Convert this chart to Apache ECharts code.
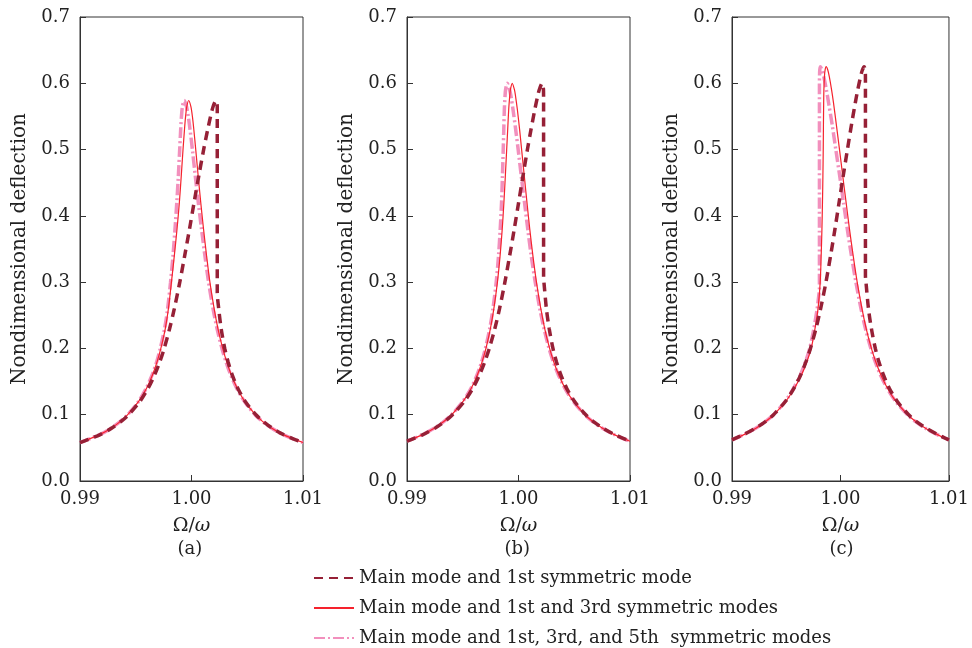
<!DOCTYPE html>
<html>
<head>
<meta charset="utf-8">
<script src="https://cdn.jsdelivr.net/npm/echarts@6/dist/echarts.min.js"></script>
<style>html,body{margin:0;padding:0;background:#fff;}#c{width:972px;height:648px;}</style>
</head>
<body>
<div id="c"></div>
<script>
// Series names
const seriesNames = [
  'Main mode and 1st symmetric mode',
  'Main mode and 1st and 3rd symmetric modes',
  'Main mode and 1st, 3rd, and 5th  symmetric modes'
];
const panelLabels = ['(a)', '(b)', '(c)'];
const xTicks = [0.99, 1.00, 1.01];
const yTicks = [0.0, 0.1, 0.2, 0.3, 0.4, 0.5, 0.6, 0.7];

// Panel (a) — [Ω/ω, deflection]
const a_dashed = [[0.99,0.058],[0.99181,0.07],[0.99286,0.08],[0.99369,0.09],[0.99436,0.10],[0.99537,0.12],[0.99611,0.14],[0.99669,0.16],[0.99716,0.18],[0.99755,0.20],[0.99804,0.23],[0.99846,0.26],[0.99895,0.30],[0.99939,0.34],[0.99982,0.38],[1.00023,0.42],[1.00065,0.46],[1.00109,0.50],[1.00145,0.53],[1.00171,0.55],[1.00194,0.565],[1.00219,0.574],[1.00231,0.565],[1.00231,0.55],[1.00231,0.285],[1.00244,0.26],[1.00266,0.23],[1.00298,0.20],[1.00328,0.18],[1.00365,0.16],[1.00415,0.14],[1.00482,0.12],[1.00578,0.10],[1.00642,0.09],[1.00722,0.08],[1.00826,0.07],[1.01,0.058]];
const a_red = [[0.99,0.058],[0.99177,0.07],[0.99282,0.08],[0.99363,0.09],[0.99428,0.10],[0.99526,0.12],[0.99597,0.14],[0.99650,0.16],[0.99692,0.18],[0.99725,0.20],[0.99765,0.23],[0.99793,0.26],[0.99820,0.30],[0.99846,0.34],[0.99870,0.38],[0.99891,0.42],[0.99908,0.46],[0.99924,0.50],[0.99937,0.53],[0.99947,0.55],[0.99958,0.565],[0.99975,0.574],[0.99994,0.565],[1.00008,0.55],[1.00021,0.53],[1.00038,0.50],[1.00060,0.46],[1.00083,0.42],[1.00108,0.38],[1.00135,0.34],[1.00165,0.30],[1.00203,0.26],[1.00237,0.23],[1.00280,0.20],[1.00315,0.18],[1.00357,0.16],[1.00410,0.14],[1.00478,0.12],[1.00573,0.10],[1.00637,0.09],[1.00717,0.08],[1.00822,0.07],[1.01,0.058]];
const a_pink = [[0.99,0.058],[0.99177,0.07],[0.99281,0.08],[0.99362,0.09],[0.99427,0.10],[0.99525,0.12],[0.99594,0.14],[0.99647,0.16],[0.99688,0.18],[0.99720,0.20],[0.99759,0.23],[0.99786,0.26],[0.99812,0.30],[0.99834,0.34],[0.99852,0.38],[0.99868,0.42],[0.99882,0.46],[0.99894,0.50],[0.99903,0.53],[0.99910,0.55],[0.99919,0.565],[0.99935,0.574],[0.99955,0.565],[0.99971,0.55],[0.99987,0.53],[1.00008,0.50],[1.00034,0.46],[1.00061,0.42],[1.00090,0.38],[1.00120,0.34],[1.00153,0.30],[1.00193,0.26],[1.00229,0.23],[1.00273,0.20],[1.00309,0.18],[1.00352,0.16],[1.00405,0.14],[1.00475,0.12],[1.00570,0.10],[1.00635,0.09],[1.00717,0.08],[1.00821,0.07],[1.01,0.058]];

// Panel (b)
const b_dashed = [[0.99,0.060],[0.99143,0.07],[0.99253,0.08],[0.99339,0.09],[0.99408,0.10],[0.99514,0.12],[0.99591,0.14],[0.99650,0.16],[0.99698,0.18],[0.99738,0.20],[0.99788,0.23],[0.99830,0.26],[0.99878,0.30],[0.99921,0.34],[0.99962,0.38],[1.00001,0.42],[1.00040,0.46],[1.00080,0.50],[1.00112,0.53],[1.00146,0.56],[1.00171,0.58],[1.00186,0.59],[1.00212,0.60],[1.00224,0.59],[1.00225,0.575],[1.00225,0.305],[1.00228,0.30],[1.00250,0.26],[1.00275,0.23],[1.00309,0.20],[1.00340,0.18],[1.00380,0.16],[1.00432,0.14],[1.00503,0.12],[1.00603,0.10],[1.00670,0.09],[1.00755,0.08],[1.00863,0.07],[1.01,0.060]];
const b_red = [[0.99,0.060],[0.99139,0.07],[0.99248,0.08],[0.99333,0.09],[0.99401,0.10],[0.99503,0.12],[0.99576,0.14],[0.99631,0.16],[0.99674,0.18],[0.99708,0.20],[0.99748,0.23],[0.99779,0.26],[0.99811,0.30],[0.99835,0.34],[0.99854,0.38],[0.99869,0.42],[0.99882,0.46],[0.99894,0.50],[0.99903,0.53],[0.99912,0.56],[0.99921,0.58],[0.99927,0.59],[0.99944,0.60],[0.99964,0.59],[0.99974,0.58],[0.99990,0.56],[1.00010,0.53],[1.00028,0.50],[1.00052,0.46],[1.00076,0.42],[1.00101,0.38],[1.00129,0.34],[1.00161,0.30],[1.00200,0.26],[1.00235,0.23],[1.00279,0.20],[1.00316,0.18],[1.00361,0.16],[1.00418,0.14],[1.00493,0.12],[1.00596,0.10],[1.00664,0.09],[1.00750,0.08],[1.00859,0.07],[1.01,0.060]];
const b_pink = [[0.99,0.060],[0.99139,0.07],[0.99247,0.08],[0.99332,0.09],[0.99400,0.10],[0.99501,0.12],[0.99574,0.14],[0.99628,0.16],[0.99670,0.18],[0.99703,0.20],[0.99742,0.23],[0.99771,0.26],[0.99800,0.30],[0.99821,0.34],[0.99836,0.38],[0.99848,0.42],[0.99856,0.46],[0.99863,0.50],[0.99868,0.53],[0.99873,0.56],[0.99879,0.58],[0.99884,0.59],[0.99899,0.60],[0.99921,0.59],[0.99933,0.58],[0.99951,0.56],[0.99975,0.53],[0.99997,0.50],[1.00025,0.46],[1.00054,0.42],[1.00083,0.38],[1.00114,0.34],[1.00150,0.30],[1.00191,0.26],[1.00229,0.23],[1.00274,0.20],[1.00312,0.18],[1.00358,0.16],[1.00415,0.14],[1.00491,0.12],[1.00595,0.10],[1.00663,0.09],[1.00749,0.08],[1.00858,0.07],[1.01,0.060]];

// Panel (c)
const c_dashed = [[0.99,0.062],[0.99107,0.07],[0.99221,0.08],[0.99311,0.09],[0.99383,0.10],[0.99492,0.12],[0.99572,0.14],[0.99633,0.16],[0.99682,0.18],[0.99723,0.20],[0.99774,0.23],[0.99817,0.26],[0.99866,0.30],[0.99909,0.34],[0.99949,0.38],[0.99987,0.42],[1.00025,0.46],[1.00064,0.50],[1.00104,0.54],[1.00136,0.57],[1.00159,0.59],[1.00185,0.61],[1.00202,0.62],[1.00218,0.625],[1.00227,0.62],[1.00230,0.61],[1.00230,0.60],[1.00230,0.31],[1.00235,0.30],[1.00258,0.26],[1.00285,0.23],[1.00321,0.20],[1.00354,0.18],[1.00396,0.16],[1.00450,0.14],[1.00524,0.12],[1.00628,0.10],[1.00698,0.09],[1.00786,0.08],[1.00898,0.07],[1.01,0.062]];
const c_red = [[0.99,0.062],[0.99110,0.07],[0.99225,0.08],[0.99313,0.09],[0.99385,0.10],[0.99495,0.12],[0.99575,0.14],[0.99640,0.16],[0.99690,0.18],[0.99730,0.20],[0.99765,0.23],[0.99793,0.26],[0.99813,0.30],[0.99822,0.34],[0.99829,0.38],[0.99834,0.42],[0.99838,0.46],[0.99841,0.50],[0.99843,0.54],[0.99845,0.57],[0.99847,0.59],[0.99852,0.61],[0.99858,0.62],[0.99868,0.625],[0.99883,0.62],[0.99897,0.61],[0.99918,0.59],[0.99936,0.57],[0.99960,0.54],[0.99991,0.50],[1.00021,0.46],[1.00052,0.42],[1.00083,0.38],[1.00117,0.34],[1.00154,0.30],[1.00198,0.26],[1.00237,0.23],[1.00285,0.20],[1.00325,0.18],[1.00373,0.16],[1.00433,0.14],[1.00511,0.12],[1.00619,0.10],[1.00691,0.09],[1.00780,0.08],[1.00894,0.07],[1.01,0.062]];
const c_pink = [[0.99,0.062],[0.99108,0.07],[0.99222,0.08],[0.99310,0.09],[0.99382,0.10],[0.99490,0.12],[0.99568,0.14],[0.99630,0.16],[0.99678,0.18],[0.99716,0.20],[0.99755,0.23],[0.99785,0.26],[0.99800,0.28],[0.99806,0.29],[0.99806,0.60],[0.99807,0.61],[0.99809,0.62],[0.99815,0.625],[0.99830,0.62],[0.99846,0.61],[0.99870,0.59],[0.99891,0.57],[0.99921,0.54],[0.99957,0.50],[0.99993,0.46],[1.00028,0.42],[1.00063,0.38],[1.00101,0.34],[1.00142,0.30],[1.00189,0.26],[1.00230,0.23],[1.00280,0.20],[1.00320,0.18],[1.00369,0.16],[1.00430,0.14],[1.00509,0.12],[1.00618,0.10],[1.00690,0.09],[1.00779,0.08],[1.00893,0.07],[1.01,0.062]];

const panels = [
  {dashed: a_dashed, red: a_red, pink: a_pink},
  {dashed: b_dashed, red: b_red, pink: b_pink},
  {dashed: c_dashed, red: c_red, pink: c_pink}
];

const FONT = 'DejaVu Serif';
const TXT = '#222';
const gridLefts = [80, 407, 732];
const gridW = 223;
const grids = gridLefts.map(l => ({left: l, top: 17, width: gridW, height: 464, show: true, borderColor: '#333', borderWidth: 1, backgroundColor: 'transparent'}));

const xAxes = grids.map((g, i) => ({
  type: 'value', gridIndex: i, min: xTicks[0], max: xTicks[2], interval: 0.01,
  axisLine: {show: true, lineStyle: {color: '#333', width: 1}},
  axisTick: {show: true, inside: true, length: 6, lineStyle: {color: '#333'}},
  axisLabel: {fontFamily: FONT, fontSize: 18, color: TXT, margin: 9, formatter: v => v.toFixed(2)},
  splitLine: {show: false},
  name: '{n|Ω/}{i|ω}', nameLocation: 'middle', nameGap: 36,
  nameTextStyle: {rich: {n: {fontFamily: FONT, fontSize: 19, color: TXT}, i: {fontFamily: FONT, fontSize: 19, fontStyle: 'italic', color: TXT}}}
}));
const yAxes = grids.map((g, i) => ({
  type: 'value', gridIndex: i, min: 0, max: 0.7, interval: 0.1,
  axisLine: {show: true, lineStyle: {color: '#333', width: 1}},
  axisTick: {show: true, inside: true, length: 6, lineStyle: {color: '#333'}},
  axisLabel: {fontFamily: FONT, fontSize: 18, color: TXT, margin: 10, formatter: v => v.toFixed(1)},
  splitLine: {show: false},
  name: 'Nondimensional deflection', nameLocation: 'middle', nameGap: 50, nameRotate: 90,
  nameTextStyle: {fontFamily: FONT, fontSize: 20, color: TXT}
}));

const styles = {
  pink: {name: seriesNames[2], color: '#f290bd', width: 3.5, type: [11, 3, 2, 3], z: 2},
  red: {name: seriesNames[1], color: '#f5222d', width: 1.2, type: 'solid', z: 3},
  dashed: {name: seriesNames[0], color: '#962036', width: 3.5, type: [9, 6], z: 4}
};
const series = [];
panels.forEach((p, i) => {
  ['pink', 'red', 'dashed'].forEach(k => {
    const s = styles[k];
    series.push({
      type: 'line', name: s.name, xAxisIndex: i, yAxisIndex: i, data: p[k],
      showSymbol: false, symbol: 'none', smooth: 0.3, z: s.z,
      lineStyle: {color: s.color, width: s.width, type: s.type},
      itemStyle: {color: s.color}
    });
  });
});

const chart = echarts.init(document.getElementById('c'));
chart.setOption({
  animation: false,
  backgroundColor: '#fff',
  grid: grids, xAxis: xAxes, yAxis: yAxes, series,
  legend: {
    orient: 'vertical', left: 313, top: 569, padding: 0, itemWidth: 40, itemHeight: 12, itemGap: 12,
    data: seriesNames,
    itemStyle: {opacity: 0},
    textStyle: {fontFamily: FONT, fontSize: 18, color: TXT, lineHeight: 18}
  },
  graphic: panelLabels.map((t, i) => ({
    type: 'text', left: gridLefts[i] + gridW / 2 - 14, top: 540,
    style: {text: t, fontFamily: FONT, fontSize: 18, fill: TXT}
  }))
});
</script>
</body>
</html>
